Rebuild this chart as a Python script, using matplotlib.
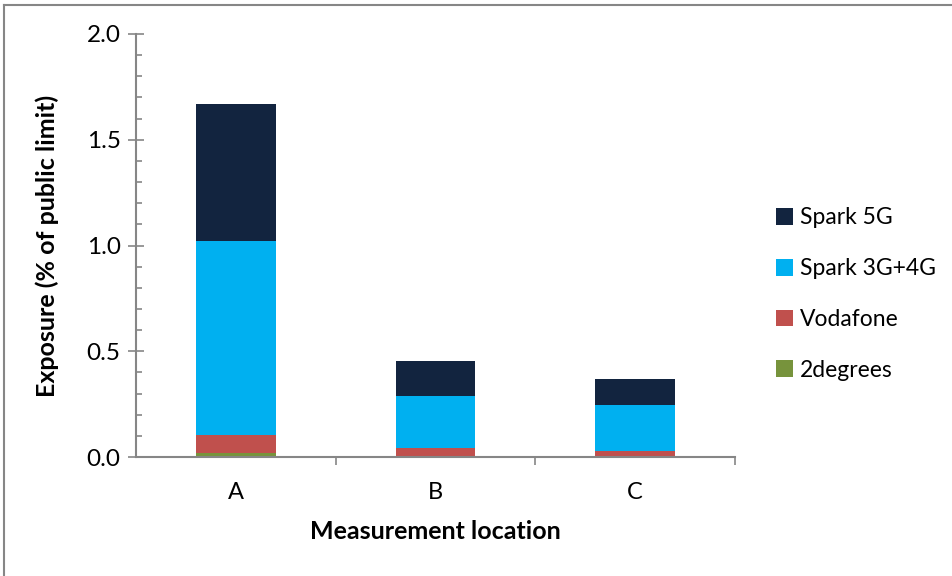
import matplotlib
matplotlib.use("Agg")
import matplotlib.pyplot as plt
from matplotlib.lines import Line2D
import numpy as np

plt.rcParams['font.family'] = ['Lato', 'DejaVu Sans']

locations = ["A", "B", "C"]
series_names = ["2degrees", "Vodafone", "Spark 3G+4G", "Spark 5G"]
twodegrees = [0.017, 0.003, 0.002]
vodafone = [0.088, 0.040, 0.026]
spark_3g4g = [0.916, 0.245, 0.218]
spark_5g = [0.648, 0.166, 0.123]
colors = ["#77933C", "#C0504D", "#00B0F0", "#12243F"]

fig = plt.figure(figsize=(9.53, 5.76), dpi=100)
ax = fig.add_axes([136/953, 1-457/576, (735-136)/953, (457-34)/576])

x = np.arange(len(locations))
bottom = np.zeros(len(locations))
for name, vals, c in zip(series_names, [twodegrees, vodafone, spark_3g4g, spark_5g], colors):
    ax.bar(x, vals, width=0.4, bottom=bottom, color=c, label=name, edgecolor='none')
    bottom += np.array(vals)

ax.set_xlim(-0.5, 2.5)
ax.set_ylim(0, 2.0)
ax.set_yticks(np.arange(0, 2.01, 0.5))
ax.set_yticklabels([f"{v:.1f}" for v in np.arange(0, 2.01, 0.5)])
ax.set_yticks(np.arange(0, 2.01, 0.1), minor=True)
ax.set_xticks(x)
ax.set_xticklabels(locations)
ax.set_xticks([0.5, 1.5, 2.5], minor=True)

grey = "#868686"
for s in ["top", "right"]:
    ax.spines[s].set_visible(False)
for s in ["left", "bottom"]:
    ax.spines[s].set_color(grey)
    ax.spines[s].set_linewidth(1.5)

ax.tick_params(axis='y', which='major', direction='inout', length=12, width=1.2, color=grey, labelsize=17.5, pad=5)
ax.tick_params(axis='y', which='minor', direction='in', length=4, width=1.2, color=grey)
ax.tick_params(axis='x', which='major', length=0, labelsize=17, pad=18)
ax.tick_params(axis='x', which='minor', direction='out', length=6, width=1.2, color=grey)

ax.set_xlabel("Measurement location", fontsize=18, fontweight='bold', labelpad=12)
ax.set_ylabel("Exposure (% of public limit)", fontsize=18, fontweight='bold', labelpad=20)

handles, labels = ax.get_legend_handles_labels()
leg = fig.legend(handles[::-1], labels[::-1], loc='center left', bbox_to_anchor=(755/953, 1-294/576),
                 frameon=False, fontsize=16.5, handlelength=0.75, handleheight=0.75,
                 labelspacing=1.3, handletextpad=0.3)

# figure border (top and left visible)
fig.add_artist(Line2D([4/953, 4/953], [0, 1-5/576], transform=fig.transFigure, color=grey, lw=1.5))
fig.add_artist(Line2D([4/953, 1], [1-5/576, 1-5/576], transform=fig.transFigure, color=grey, lw=1.5))

fig.savefig("out.png", dpi=100)
